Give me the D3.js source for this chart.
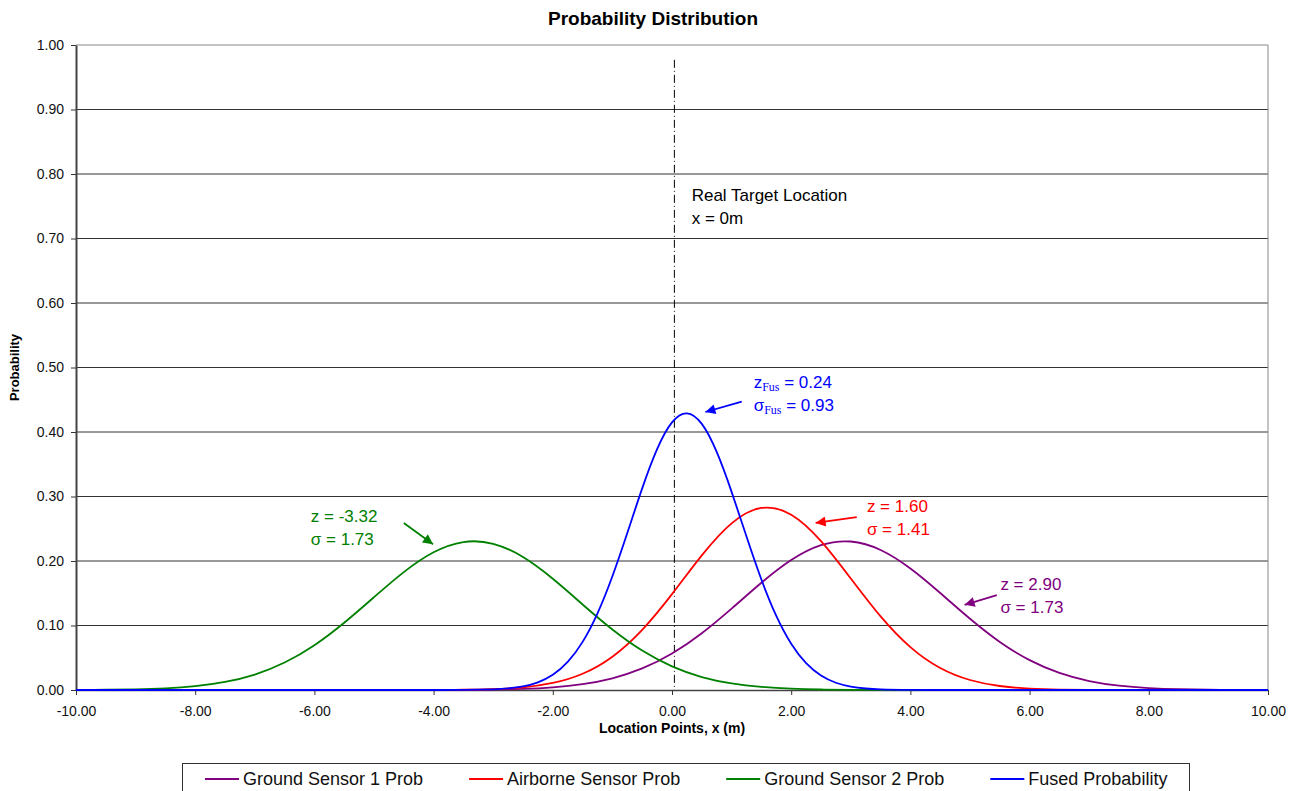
<!DOCTYPE html>
<html>
<head>
<meta charset="utf-8">
<script src="https://cdn.jsdelivr.net/npm/d3@7"></script>
<style>
  body { margin: 0; background: #fff; }
  svg { display: block; font-family: "Liberation Sans", Arial, sans-serif; }
</style>
</head>
<body>
<div id="chart"></div>
<script>
// location points (m) for the three sensors
const locX = [-10, -9.5, -9, -8.5, -8, -7.5, -7, -6.5, -6, -5.5, -5, -4.5, -4, -3.5, -3, -2.5, -2, -1.5, -1, -0.5,
  0, 0.5, 1, 1.5, 2, 2.5, 3, 3.5, 4, 4.5, 5, 5.5, 6, 6.5, 7, 7.5, 8, 8.5, 9, 9.5, 10]

const groundSensor1 = [0, 0, 0, 0, 0, 0, 0, 0, 0, 0, 0, 0, 0.0001, 0.0002, 0.0007, 0.0018, 0.0042, 0.0091, 0.0182, 0.0334,
  0.0566, 0.0881, 0.1262, 0.1662, 0.2014, 0.2245, 0.2302, 0.2171, 0.1884, 0.1504, 0.1104, 0.0745, 0.0463, 0.0265, 0.0139,
  0.0067, 0.0030, 0.0012, 0.0005, 0.0002, 0.0001]

const airborneSensor = [0, 0, 0, 0, 0, 0, 0, 0, 0, 0, 0, 0, 0.0001, 0.0004, 0.0014, 0.0041, 0.0109, 0.0252, 0.0517, 0.0933,
  0.1486, 0.2087, 0.2584, 0.2822, 0.2718, 0.2308, 0.1728, 0.1141, 0.0665, 0.0341, 0.0155, 0.0062, 0.0022, 0.0007, 0.0002,
  0, 0, 0, 0, 0, 0]

const groundSensor2 = [0.0001, 0.0004, 0.0011, 0.0026, 0.0059, 0.0125, 0.0240, 0.0426, 0.0695, 0.1043, 0.1439, 0.1828,
  0.2135, 0.2294, 0.2267, 0.2061, 0.1724, 0.1326, 0.0938, 0.0611, 0.0366, 0.0201, 0.0102, 0.0048, 0.0020, 0.0008, 0.0003,
  0.0001, 0, 0, 0, 0, 0, 0, 0, 0, 0, 0, 0, 0, 0]

// the fused curve is narrow, read at finer steps
const fusedX = [-10, -9.5, -9, -8.5, -8, -7.5, -7, -6.5, -6, -5.5, -5, -4.5, -4, -3.5, -3, -2.75, -2.5, -2.25, -2, -1.75,
  -1.5, -1.25, -1, -0.75, -0.5, -0.25, 0, 0.25, 0.5, 0.75, 1, 1.25, 1.5, 1.75, 2, 2.25, 2.5, 2.75, 3, 3.25, 3.5, 4, 4.5,
  5, 5.5, 6, 6.5, 7, 7.5, 8, 8.5, 9, 9.5, 10]
const fused = [0, 0, 0, 0, 0, 0, 0, 0, 0, 0, 0, 0, 0, 0.0001, 0.0010, 0.0024, 0.0056, 0.0119, 0.0236, 0.0435,
  0.0746, 0.1189, 0.1764, 0.2434, 0.3126, 0.3734, 0.4149, 0.4290, 0.4126, 0.3691, 0.3072, 0.2379, 0.1713, 0.1148, 0.0716,
  0.0415, 0.0224, 0.0112, 0.0053, 0.0023, 0.0009, 0.0001, 0, 0, 0, 0, 0, 0, 0, 0, 0, 0, 0, 0]

const xTicks = [-10, -8, -6, -4, -2, 0, 2, 4, 6, 8, 10]
const yTicks = [0, 0.1, 0.2, 0.3, 0.4, 0.5, 0.6, 0.7, 0.8, 0.9, 1.0]

const series = [
  { name: "Ground Sensor 1 Prob", color: "#800080", xs: locX, ys: groundSensor1 },
  { name: "Airborne Sensor Prob", color: "#ff0000", xs: locX, ys: airborneSensor },
  { name: "Ground Sensor 2 Prob", color: "#008000", xs: locX, ys: groundSensor2 },
  { name: "Fused Probability", color: "#0000ff", xs: fusedX, ys: fused }
]

// annotation text anchor and arrow (from -> to), in data units
const notes = [
  { color: "#008000", x: -6.06, y: 0.260, lines: [["z = -3.32"], ["σ = 1.73"]], arrow: [-4.50, 0.259, -4.01, 0.226] },
  { color: "#ff0000", x: 3.27, y: 0.276, lines: [["z = 1.60"], ["σ = 1.41"]], arrow: [3.10, 0.268, 2.41, 0.259] },
  { color: "#800080", x: 5.51, y: 0.155, lines: [["z = 2.90"], ["σ = 1.73"]], arrow: [5.45, 0.147, 4.91, 0.132] },
  { color: "#0000ff", x: 1.37, y: 0.468, lines: [["z", "Fus", " = 0.24"], ["σ", "Fus", " = 0.93"]], arrow: [1.17, 0.447, 0.56, 0.431] },
  { color: "#000", x: 0.33, y: 0.758, lines: [["Real Target Location"], ["x = 0m"]] }
]
const targetX = 0.04

const width = 1298, height = 791
const x = d3.scaleLinear([-10, 10], [76, 1268])
const y = d3.scaleLinear([0, 1], [690, 45])
const fmt = d => d.toFixed(2)

const svg = d3.select("#chart").append("svg")
    .attr("width", width)
    .attr("height", height)

svg.append("rect").attr("width", width).attr("height", height).attr("fill", "#fff")

// grid
svg.append("g")
  .selectAll("line")
  .data(yTicks.filter(d => d > 0))
  .join("line")
    .attr("x1", x(-10)).attr("x2", x(10))
    .attr("y1", d => y(d)).attr("y2", d => y(d))
    .attr("stroke", d => d === 1 ? "#888" : "#333")
    .attr("stroke-width", 1)

// right border
svg.append("line")
    .attr("x1", x(10)).attr("x2", x(10))
    .attr("y1", y(1)).attr("y2", y(0))
    .attr("stroke", "#888")

// axes
const yAxis = svg.append("g")
    .attr("transform", `translate(${x(-10)},0)`)
    .call(d3.axisLeft(y).tickValues(yTicks).tickFormat(fmt).tickSize(5).tickSizeOuter(0).tickPadding(7))
yAxis.select(".domain").attr("stroke", "#444").attr("stroke-width", 2)

const xAxis = svg.append("g")
    .attr("transform", `translate(0,${y(0)})`)
    .call(d3.axisBottom(x).tickValues(xTicks).tickFormat(fmt).tickSize(5).tickSizeOuter(0).tickPadding(11))
xAxis.select(".domain").attr("stroke", "#444").attr("stroke-width", 1.5)

svg.selectAll(".tick line").attr("stroke", "#333")
svg.selectAll(".tick text")
    .attr("font-family", '"Liberation Sans", Arial, sans-serif')
    .attr("font-size", 14)
    .attr("fill", "#111")

// target location dash-dot line
svg.append("line")
    .attr("x1", x(targetX)).attr("x2", x(targetX))
    .attr("y1", y(0.977)).attr("y2", y(0))
    .attr("stroke", "#000")
    .attr("stroke-width", 1)
    .attr("stroke-dasharray", "8,3,1,3")

// curves
const line = d3.line()
    .x(d => x(d[0]))
    .y(d => y(Math.max(0, d[1])))
    .curve(d3.curveNatural)

svg.append("g")
  .selectAll("path")
  .data(series)
  .join("path")
    .attr("fill", "none")
    .attr("stroke", d => d.color)
    .attr("stroke-width", 1.8)
    .attr("d", d => line(d.xs.map((v, i) => [v, d.ys[i]])))

// arrow markers
const defs = svg.append("defs")
notes.filter(n => n.arrow).forEach((n, i) => {
  defs.append("marker")
      .attr("id", "arr" + i)
      .attr("viewBox", "0 0 10 10")
      .attr("refX", 10).attr("refY", 5)
      .attr("markerUnits", "userSpaceOnUse")
      .attr("markerWidth", 12).attr("markerHeight", 10)
      .attr("orient", "auto")
    .append("path")
      .attr("d", "M0,0L10,5L0,10z")
      .attr("fill", n.color)
})

// annotations
notes.forEach((n, i) => {
  const t = svg.append("text")
      .attr("x", x(n.x))
      .attr("y", y(n.y))
      .attr("fill", n.color)
      .attr("font-size", 17)
  n.lines.forEach((parts, j) => {
    parts.forEach((p, k) => {
      const s = t.append("tspan").text(p)
      if (k === 0) s.attr("x", x(n.x)).attr("y", y(n.y) + j * 23)
      if (parts.length > 1 && k === 1) s.attr("font-family", '"Liberation Serif", "Times New Roman", serif').attr("font-size", 12).attr("dy", 3)
      if (parts.length > 1 && k === 2) s.attr("dy", -3)
    })
  })
  if (n.arrow) {
    const [x1, y1, x2, y2] = n.arrow
    svg.append("line")
        .attr("x1", x(x1)).attr("y1", y(y1))
        .attr("x2", x(x2)).attr("y2", y(y2))
        .attr("stroke", n.color)
        .attr("stroke-width", 1.8)
        .attr("marker-end", `url(#arr${i})`)
  }
})

// titles
svg.append("text")
    .attr("x", 653).attr("y", 25)
    .attr("text-anchor", "middle")
    .attr("font-weight", "bold")
    .attr("font-size", 19)
    .text("Probability Distribution")

svg.append("text")
    .attr("x", x(0)).attr("y", 733)
    .attr("text-anchor", "middle")
    .attr("font-weight", "bold")
    .attr("font-size", 14)
    .text("Location Points, x (m)")

svg.append("text")
    .attr("transform", `translate(19,${y(0.5)}) rotate(-90)`)
    .attr("text-anchor", "middle")
    .attr("font-weight", "bold")
    .attr("font-size", 13)
    .text("Probability")

// legend
const legend = svg.append("g")
legend.append("rect")
    .attr("x", 182.5).attr("y", 763.5)
    .attr("width", 1007).attr("height", 50)
    .attr("fill", "#fff")
    .attr("stroke", "#333")

let lx = 205
series.forEach(s => {
  legend.append("line")
      .attr("x1", lx).attr("x2", lx + 34)
      .attr("y1", 779).attr("y2", 779)
      .attr("stroke", s.color)
      .attr("stroke-width", 2)
  const t = legend.append("text")
      .attr("x", lx + 38).attr("y", 785)
      .attr("font-size", 18)
      .attr("fill", "#111")
      .text(s.name)
  lx += 38 + t.node().getComputedTextLength() + 46
})
</script>
</body>
</html>
